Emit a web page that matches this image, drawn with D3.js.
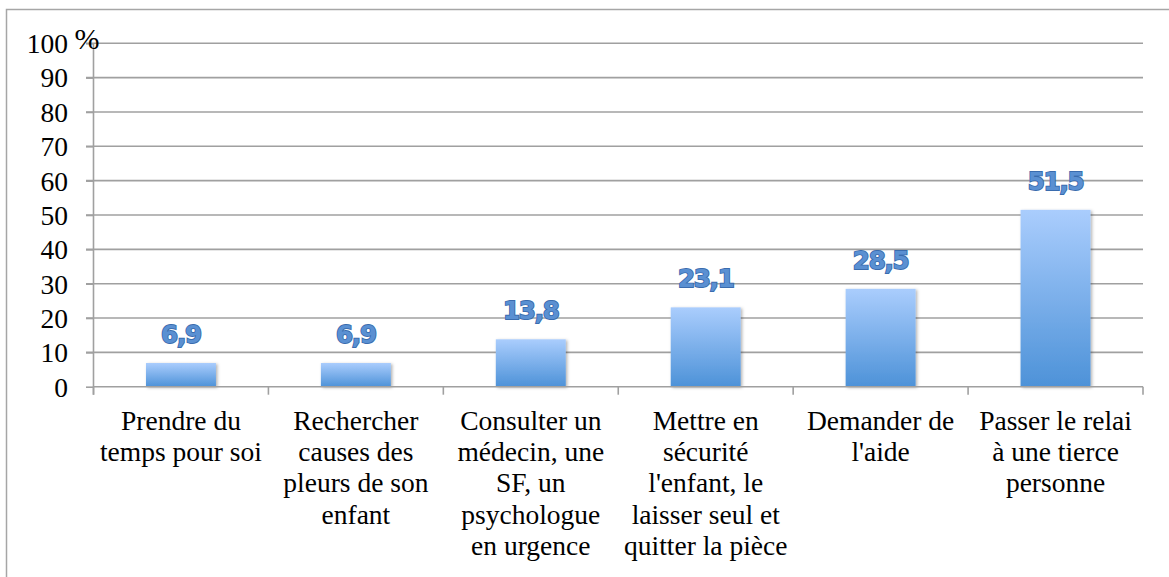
<!DOCTYPE html>
<html>
<head>
<meta charset="utf-8">
<script src="https://cdn.jsdelivr.net/npm/d3@7"></script>
<style>
  body { margin: 0; background: #fff; }
  svg { display: block; }
</style>
</head>
<body>
<div class="vis-barchart"></div>
<script>
const categories = [
  "Prendre du|temps pour soi",
  "Rechercher|causes des|pleurs de son|enfant",
  "Consulter un|médecin, une|SF, un|psychologue|en urgence",
  "Mettre en|sécurité|l'enfant, le|laisser seul et|quitter la pièce",
  "Demander de|l'aide",
  "Passer le relai|à une tierce|personne"
];
const values = [6.9, 6.9, 13.8, 23.1, 28.5, 51.5];
const yTicks = [0, 10, 20, 30, 40, 50, 60, 70, 80, 90, 100];

const W = 1169, H = 577;
const margin = {top: 43.3, right: 26, bottom: 190, left: 93.5};
const width = 1143 - margin.left;
const height = 386.7 - margin.top;

const svg = d3.select('.vis-barchart').append('svg')
  .attr('width', W).attr('height', H);

// outer frame
svg.append('path')
  .attr('d', `M6.5,${H} V9.5 H${W}`)
  .attr('fill', 'none').attr('stroke', '#a6a6a6').attr('stroke-width', 1.5);

const defs = svg.append('defs');
const grad = defs.append('linearGradient').attr('id', 'barGrad')
  .attr('x1', 0).attr('y1', 0).attr('x2', 0).attr('y2', 1);
grad.append('stop').attr('offset', '0%').attr('stop-color', '#aacdfd');
grad.append('stop').attr('offset', '100%').attr('stop-color', '#4d92d8');
const shadow = defs.append('filter').attr('id', 'shadow')
  .attr('x', '-10%').attr('y', '-10%').attr('width', '130%').attr('height', '130%');
shadow.append('feDropShadow').attr('dx', 1.5).attr('dy', 1).attr('stdDeviation', 1.5)
  .attr('flood-color', '#000').attr('flood-opacity', 0.3);

const g = svg.append('g').attr('transform', `translate(${margin.left},${margin.top})`);

const x = d3.scaleBand().domain(d3.range(categories.length)).range([0, width]).padding(0);
const y = d3.scaleLinear().domain([0, 100]).range([height, 0]);

// gridlines
g.selectAll('.grid').data(yTicks.slice(1)).enter().append('line')
  .attr('x1', -7.5).attr('x2', width)
  .attr('y1', d => y(d)).attr('y2', d => y(d))
  .attr('stroke', '#a0a0a0').attr('stroke-width', 1.6);

// y axis
const yAxis = g.append('g').call(d3.axisLeft(y).tickValues(yTicks).tickSize(7.5).tickPadding(18));
yAxis.select('.domain').attr('stroke', '#a0a0a0').attr('stroke-width', 1.6)
  .attr('d', `M0,${height + 8}V0`);
yAxis.selectAll('.tick line').attr('stroke', '#a0a0a0').attr('stroke-width', 1.6);
yAxis.selectAll('.tick text')
  .attr('font-family', '"Liberation Serif", serif').attr('font-size', 27.5)
  .attr('fill', '#000').attr('dy', '0.34em');

g.append('text').attr('x', -19).attr('y', 6)
  .attr('font-family', '"Liberation Serif", serif').attr('font-size', 30)
  .text('%');

// bars
const bw = x.bandwidth() * 0.4;
g.selectAll('.bar').data(values).enter().append('rect')
  .attr('x', (d, i) => x(i) + (x.bandwidth() - bw) / 2)
  .attr('width', bw)
  .attr('y', d => y(d))
  .attr('height', d => height - y(d))
  .attr('fill', 'url(#barGrad)')
  .attr('filter', 'url(#shadow)');

// x axis
const xAxisG = g.append('g').attr('transform', `translate(0,${height})`);
xAxisG.append('line').attr('x1', 0).attr('x2', width)
  .attr('stroke', '#a0a0a0').attr('stroke-width', 1.6);
xAxisG.selectAll('.xtick').data(d3.range(categories.length + 1)).enter().append('line')
  .attr('x1', i => i * x.step()).attr('x2', i => i * x.step())
  .attr('y1', 0).attr('y2', 8)
  .attr('stroke', '#a0a0a0').attr('stroke-width', 1.6);

const labels = xAxisG.selectAll('.xlabel').data(categories).enter().append('text')
  .attr('x', (d, i) => x(i) + x.bandwidth() / 2)
  .attr('y', 43)
  .attr('text-anchor', 'middle')
  .attr('font-family', '"Liberation Serif", serif').attr('font-size', 27.5)
  .attr('fill', '#000');
labels.each(function(d) {
  const t = d3.select(this);
  d.split('|').forEach((line, k) => {
    t.append('tspan').attr('x', t.attr('x')).attr('dy', k === 0 ? 0 : 31.3).text(line);
  });
});

// value labels
g.selectAll('.val').data(values).enter().append('text')
  .attr('x', (d, i) => x(i) + x.bandwidth() / 2)
  .attr('y', d => y(d) - 20)
  .attr('text-anchor', 'middle')
  .attr('font-family', '"DejaVu Sans", sans-serif').attr('font-weight', 'bold')
  .attr('font-size', 24.5).attr('letter-spacing', -1.2)
  .attr('fill', '#5a90d2').attr('stroke', '#3a6cae').attr('stroke-width', 1.8)
  .attr('paint-order', 'stroke')
  .text(d => String(d).replace('.', ','));
</script>
</body>
</html>
